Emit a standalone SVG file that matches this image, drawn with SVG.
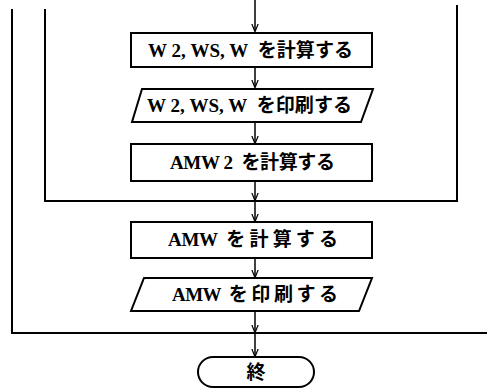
<svg xmlns="http://www.w3.org/2000/svg" width="487" height="388" viewBox="0 0 487 388">
<defs>
<style>
.s{fill:#fff;stroke:#000;stroke-width:2}
.l{fill:none;stroke:#000;stroke-width:2}
.c{fill:none;stroke:#000;stroke-width:1.5}
.t{font-family:"Liberation Serif","Noto Sans CJK JP",serif;font-size:19px;font-weight:bold;fill:#000;white-space:pre}
</style>
<marker id="a" viewBox="0 0 10 10" refX="9" refY="5" markerWidth="8" markerHeight="8" markerUnits="userSpaceOnUse" orient="auto">
<path d="M0,1 L10,5 L0,9" fill="none" stroke="#000" stroke-width="1.5"/>
</marker>
</defs>
<rect width="487" height="388" fill="#fff"/>
<g id="loops">
<path class="l" d="M12,9 V333 H487"/>
<path class="l" d="M45,9 V201 H457 V5"/>
</g>
<g id="connectors">
<line class="c" x1="255" y1="0" x2="255" y2="31" marker-end="url(#a)"/>
<line class="c" x1="255" y1="67" x2="255" y2="87" marker-end="url(#a)"/>
<line class="c" x1="255" y1="122" x2="255" y2="143" marker-end="url(#a)"/>
<line class="c" x1="255" y1="181" x2="255" y2="200" marker-end="url(#a)"/>
<line class="c" x1="255" y1="202" x2="255" y2="221" marker-end="url(#a)"/>
<line class="c" x1="255" y1="258" x2="255" y2="277" marker-end="url(#a)"/>
<line class="c" x1="255" y1="311" x2="255" y2="332" marker-end="url(#a)"/>
<line class="c" x1="255" y1="334" x2="255" y2="356" marker-end="url(#a)"/>
</g>
<g id="n1">
<rect class="s" x="131" y="33" width="241" height="34"/>
<text class="t" x="148" y="57" textLength="205" lengthAdjust="spacing">W 2, WS, W  を計算する</text>
</g>
<g id="n2">
<polygon class="s" points="142,89 373,89 361,122 132,122"/>
<text class="t" x="147" y="112" textLength="205" lengthAdjust="spacing">W 2, WS, W  を印刷する</text>
</g>
<g id="n3">
<rect class="s" x="131" y="144" width="241" height="37"/>
<text class="t" x="170" y="169" textLength="165" lengthAdjust="spacing">AMW 2  を計算する</text>
</g>
<g id="n4">
<rect class="s" x="131" y="222" width="241" height="36"/>
<text class="t" x="168" y="246" textLength="170" lengthAdjust="spacing">AMW  を 計 算 す る</text>
</g>
<g id="n5">
<polygon class="s" points="144,278 372,278 359,311 131,311"/>
<text class="t" x="172" y="301" textLength="166" lengthAdjust="spacing">AMW  を 印 刷 す る</text>
</g>
<g id="n6">
<rect class="s" x="198" y="357" width="116" height="30" rx="15" ry="15"/>
<text class="t" x="256" y="379" text-anchor="middle">終</text>
</g>
</svg>
